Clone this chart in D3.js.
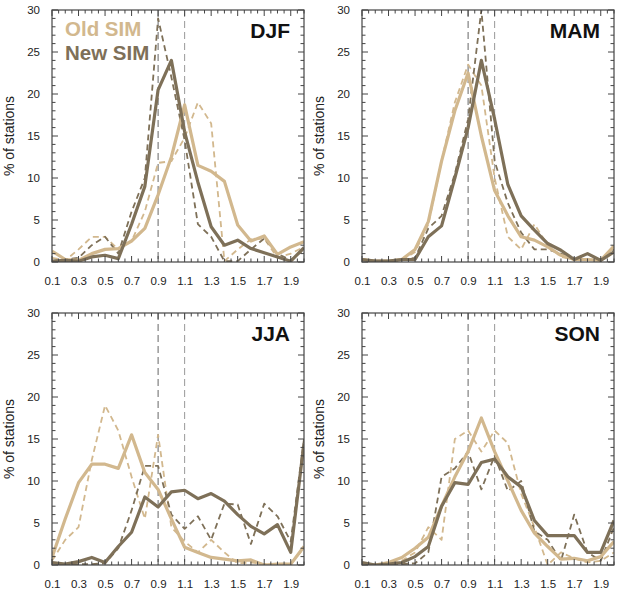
<!DOCTYPE html>
<html>
<head>
<meta charset="utf-8">
<script src="https://d3js.org/d3.v7.min.js"></script>
<style>
  body { margin: 0; background: #fff; }
  svg { font-family: "Liberation Sans", Arial, Helvetica, sans-serif; }
</style>
</head>
<body>
<div id="visContainer"></div>
<script>
'use strict';

// bin centres (ratio)
var bins = [0.1, 0.2, 0.3, 0.4, 0.5, 0.6, 0.7, 0.8, 0.9, 1.0, 1.1, 1.2, 1.3, 1.4, 1.5, 1.6, 1.7, 1.8, 1.9, 2.0];
var xTickLabels = [0.1, 0.3, 0.5, 0.7, 0.9, 1.1, 1.3, 1.5, 1.7, 1.9];
var yTickLabels = [0, 5, 10, 15, 20, 25, 30];
var seasons = ['DJF', 'MAM', 'JJA', 'SON'];
var refLines = [0.9, 1.1];

// % of stations per bin, solid = thick lines, dashed = thin lines
var djfOldSolid  = [1.3, 0.3, 0.2, 1.0, 1.5, 1.6, 2.5, 4.0, 8.0, 12.5, 18.7, 11.5, 10.8, 9.6, 4.4, 2.5, 3.1, 0.9, 1.8, 2.4];
var djfNewSolid  = [0.1, 0.2, 0.1, 0.6, 0.8, 0.4, 4.5, 9.0, 20.5, 24.0, 15.5, 9.5, 4.2, 2.0, 2.6, 1.6, 1.1, 0.6, 0.1, 1.7];
var djfOldDashed = [0.5, 0.2, 1.5, 3.0, 3.0, 1.5, 2.5, 6.0, 11.8, 12.0, 14.8, 19.0, 16.5, 0.1, 1.5, 2.7, 2.8, 0.5, 1.0, 1.8];
var djfNewDashed = [0.1, 0.3, 0.5, 2.0, 3.0, 1.0, 6.0, 10.0, 29.0, 22.0, 14.5, 4.5, 3.0, 0.1, 0.1, 1.5, 2.8, 1.0, 0.2, 1.5];

var mamOldSolid  = [0.3, 0.1, 0.1, 0.3, 1.5, 4.8, 12.0, 18.0, 22.5, 15.0, 8.5, 5.5, 3.0, 2.6, 1.8, 0.8, 0.3, 0.3, 0.2, 1.9];
var mamNewSolid  = [0.3, 0.1, 0.1, 0.3, 0.3, 3.0, 4.3, 10.0, 16.0, 24.0, 17.0, 9.2, 5.5, 3.8, 2.2, 1.4, 0.3, 1.0, 0.2, 1.2];
var mamOldDashed = [0.3, 0.1, 0.1, 0.2, 1.2, 4.5, 12.0, 19.0, 23.5, 21.0, 10.0, 3.0, 1.5, 4.5, 2.0, 0.6, 0.3, 0.3, 0.2, 1.8];
var mamNewDashed = [0.3, 0.1, 0.1, 0.2, 0.5, 4.0, 5.5, 10.5, 17.0, 30.0, 12.0, 7.0, 3.5, 1.5, 1.5, 1.0, 0.3, 1.0, 0.2, 1.5];

var jjaOldSolid  = [0.9, 5.5, 9.8, 12.0, 12.0, 11.5, 15.5, 11.0, 9.0, 5.5, 2.1, 1.5, 0.9, 0.7, 0.5, 0.6, 0.0, 0.1, 0.1, 2.2];
var jjaNewSolid  = [0.3, 0.1, 0.4, 0.9, 0.3, 2.2, 3.9, 8.1, 6.9, 8.7, 8.9, 7.9, 8.5, 7.6, 6.0, 4.6, 3.7, 4.8, 1.5, 14.5];
var jjaOldDashed = [0.5, 3.0, 4.5, 12.5, 19.0, 16.0, 10.5, 5.5, 15.5, 4.5, 2.8, 1.5, 3.0, 1.5, 0.2, 0.3, 0.1, 0.1, 0.2, 2.0];
var jjaNewDashed = [0.2, 0.1, 0.1, 0.1, 0.2, 2.0, 6.5, 11.8, 11.8, 6.0, 4.3, 5.8, 3.0, 7.3, 7.2, 2.5, 7.3, 5.8, 2.8, 15.0];

var sonOldSolid  = [0.1, 0.0, 0.3, 0.9, 2.0, 3.3, 7.0, 10.5, 13.5, 17.5, 13.5, 10.0, 6.5, 3.8, 2.2, 0.7, 0.8, 0.5, 1.0, 2.8];
var sonNewSolid  = [0.3, 0.0, 0.1, 0.3, 1.0, 2.2, 7.0, 9.8, 9.6, 12.2, 12.6, 10.5, 9.3, 5.3, 3.5, 3.5, 3.5, 1.5, 1.5, 5.3];
var sonOldDashed = [0.1, 0.0, 0.1, 0.5, 1.5, 4.5, 3.0, 15.0, 16.0, 13.5, 16.0, 14.5, 8.5, 4.5, 0.0, 1.5, 0.8, 0.3, 0.5, 1.5];
var sonNewDashed = [0.1, 0.0, 0.1, 0.1, 0.2, 1.5, 10.5, 11.5, 13.5, 9.0, 13.0, 8.8, 10.0, 4.0, 3.0, 0.5, 6.0, 1.5, 0.5, 4.5];

var OLD_COLOR = '#d2b88e';
var NEW_COLOR = '#7e7058';

var svg = d3.select('#visContainer')
	.append('svg')
	.attr('width', 626)
	.attr('height', 589);

// panel boxes
var panels = [
	{ name: 'DJF', left: 52, top: 10, lines: [djfOldDashed, djfNewDashed, djfOldSolid, djfNewSolid], legend: true },
	{ name: 'MAM', left: 362, top: 10, lines: [mamOldDashed, mamNewDashed, mamOldSolid, mamNewSolid] },
	{ name: 'JJA', left: 52, top: 313, lines: [jjaOldDashed, jjaNewDashed, jjaOldSolid, jjaNewSolid] },
	{ name: 'SON', left: 362, top: 313, lines: [sonOldDashed, sonNewDashed, sonOldSolid, sonNewSolid] }
];
var PW = 252, PH = 252;

var lineStyles = [
	{ color: OLD_COLOR, width: 1.8, dash: '6,4' },
	{ color: NEW_COLOR, width: 1.8, dash: '6,4' },
	{ color: OLD_COLOR, width: 3.2, dash: null },
	{ color: NEW_COLOR, width: 3.2, dash: null }
];

panels.forEach(function (p) {
	var xScale = d3.scaleLinear().domain([0.1, 2.0]).range([0, PW]);
	var yScale = d3.scaleLinear().domain([0, 30]).range([PH, 0]);

	var g = svg.append('g')
		.attr('transform', 'translate(' + p.left + ',' + p.top + ')');

	var clip = 'clip' + p.name;
	g.append('clipPath').attr('id', clip)
		.append('rect').attr('width', PW).attr('height', PH);

	// reference lines at 0.9 and 1.1
	g.selectAll('.ref')
		.data(refLines)
		.enter().append('line')
		.attr('class', 'ref')
		.attr('x1', function (d) { return xScale(d); })
		.attr('x2', function (d) { return xScale(d); })
		.attr('y1', 0).attr('y2', PH)
		.attr('stroke', function (d, i) { return i == 0 ? '#666' : '#999'; })
		.attr('stroke-width', 1)
		.attr('stroke-dasharray', '7,4');

	var line = d3.line()
		.x(function (d, i) { return xScale(bins[i]); })
		.y(function (d) { return yScale(d); });

	g.append('g').attr('clip-path', 'url(#' + clip + ')')
		.selectAll('path')
		.data(p.lines)
		.enter().append('path')
		.attr('d', line)
		.attr('fill', 'none')
		.attr('stroke', function (d, i) { return lineStyles[i].color; })
		.attr('stroke-width', function (d, i) { return lineStyles[i].width; })
		.attr('stroke-dasharray', function (d, i) { return lineStyles[i].dash; })
		.attr('stroke-linejoin', 'round');

	// inward ticks on all four sides
	var xMinor = d3.range(0.1, 2.0001, 0.05).map(function (v) { return +v.toFixed(2); });
	var xMajor = d3.range(0.1, 2.0001, 0.2).map(function (v) { return +v.toFixed(2); });
	var yMinor = d3.range(0, 31, 1);

	var bottomAxis = d3.axisBottom(xScale).tickValues(xTickLabels).tickSize(0).tickPadding(15)
		.tickFormat(d3.format('.1f'));
	var leftAxis = d3.axisLeft(yScale).tickValues(yTickLabels).tickSize(0).tickPadding(12);

	var bx = g.append('g').attr('transform', 'translate(0,' + PH + ')').call(bottomAxis);
	var ly = g.append('g').call(leftAxis);
	[bx, ly].forEach(function (a) {
		a.select('.domain').remove();
		a.selectAll('text').attr('fill', '#222').style('font-size', '11.5px');
	});

	var ticks = g.append('g').attr('stroke', '#444').attr('stroke-width', 1);
	xMinor.forEach(function (v) {
		var isMajor = xMajor.some(function (m) { return Math.abs(m - v) < 1e-6; });
		var len = isMajor ? 6 : 3.5;
		ticks.append('line').attr('x1', xScale(v)).attr('x2', xScale(v)).attr('y1', PH).attr('y2', PH - len);
		ticks.append('line').attr('x1', xScale(v)).attr('x2', xScale(v)).attr('y1', 0).attr('y2', len);
	});
	yMinor.forEach(function (v) {
		var len = v % 5 == 0 ? 6 : 3.5;
		ticks.append('line').attr('x1', 0).attr('x2', len).attr('y1', yScale(v)).attr('y2', yScale(v));
		ticks.append('line').attr('x1', PW).attr('x2', PW - len).attr('y1', yScale(v)).attr('y2', yScale(v));
	});

	g.append('rect')
		.attr('width', PW).attr('height', PH)
		.attr('fill', 'none')
		.attr('stroke', '#444')
		.attr('stroke-width', 1.2);

	// y label
	g.append('text')
		.text('% of stations')
		.attr('transform', 'translate(-38,' + (PH / 2) + ') rotate(-90)')
		.attr('text-anchor', 'middle')
		.style('font-size', '14px')
		.attr('fill', '#222');

	// season label
	g.append('text')
		.text(p.name)
		.attr('x', PW - 14).attr('y', 28)
		.attr('text-anchor', 'end')
		.style('font-size', '21px')
		.style('font-weight', 'bold')
		.attr('fill', '#111');

	if (p.legend) {
		var legend = g.append('g');
		legend.selectAll('text')
			.data([['Old SIM', OLD_COLOR], ['New SIM', NEW_COLOR]])
			.enter().append('text')
			.text(function (d) { return d[0]; })
			.attr('x', 13)
			.attr('y', function (d, i) { return 26 + i * 24; })
			.style('font-size', '20.5px')
			.style('font-weight', 'bold')
			.attr('fill', function (d) { return d[1]; });
	}
});
</script>
</body>
</html>
